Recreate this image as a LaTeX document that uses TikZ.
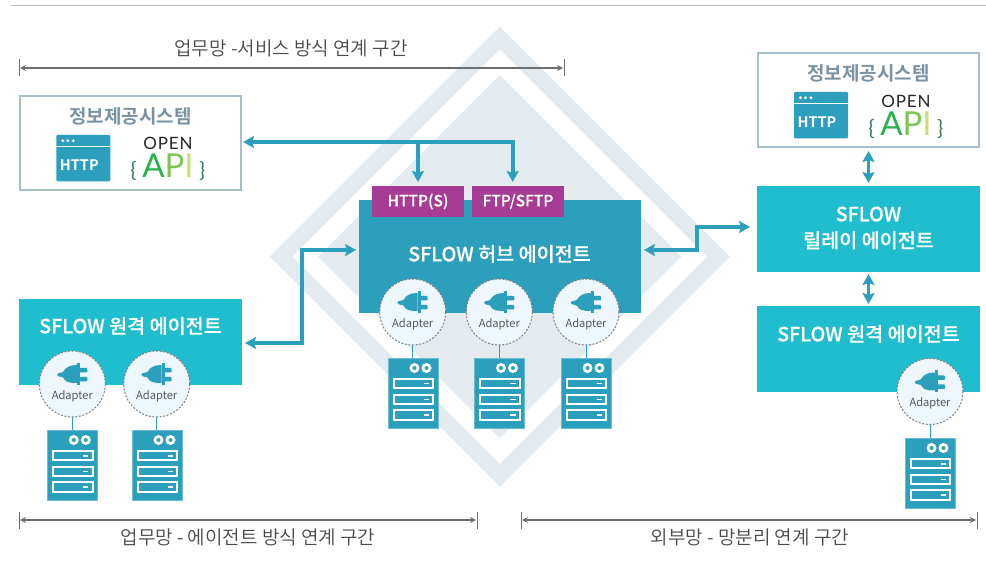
\documentclass[tikz,border=0pt]{standalone}
\usepackage{fontspec}
\setmainfont{Noto Sans CJK KR DemiLight}[BoldFont={Noto Sans CJK KR Bold}]
\newfontfamily\medfont{Noto Sans CJK KR Medium}[FakeBold=0.4]
\newfontfamily\apifont{Lato}
\usetikzlibrary{arrows.meta,calc,shapes.geometric}
\definecolor{hub}{HTML}{2C9FBD}
\definecolor{rem}{HTML}{20BDCE}
\definecolor{tagc}{HTML}{A63C93}
\definecolor{dia}{HTML}{E3EBF0}
\definecolor{adfill}{HTML}{EEF7FD}
\definecolor{txt}{HTML}{4A4A4A}
\definecolor{ttl}{HTML}{7A93A4}
\definecolor{edge}{HTML}{A6BDCC}
\definecolor{dimc}{HTML}{6E6E6E}
\definecolor{apia}{HTML}{2BB24C}
\definecolor{apip}{HTML}{7CC652}
\definecolor{apii}{HTML}{C8DE78}
\definecolor{apib}{HTML}{3A7D5C}
\tikzset{
  x=1pt,y=-1pt,
  agent/.style={fill=rem,minimum width=223pt,inner sep=0pt,outer sep=0pt,anchor=north west},
  info/.style={draw=edge,line width=2pt,fill=white,minimum width=221pt,inner sep=0pt,outer sep=0pt,anchor=north west},
  tagbox/.style={fill=tagc,minimum width=92pt,minimum height=31pt,inner sep=0pt,outer sep=0pt,anchor=north west,text=white,font=\medfont\fontsize{15.5}{15.5}\selectfont},
  head/.style={text=white,font=\medfont\fontsize{19.6}{26.5}\selectfont,align=center,inner sep=0pt},
  ttlt/.style={text=ttl,font=\fontsize{19}{20}\selectfont\bfseries,inner sep=0pt},
  dimt/.style={text=txt,font=\fontsize{19}{20}\selectfont,inner sep=0pt},
  flow/.style={draw=hub,line width=3.6pt,-{Stealth[length=11pt,width=12pt,inset=2pt]}},
  flowtwo/.style={draw=hub,line width=3.6pt,{Stealth[length=11pt,width=12pt,inset=2pt]}-{Stealth[length=11pt,width=12pt,inset=2pt]}},
  dimline/.style={draw=dimc,line width=1.5pt,{Stealth[length=6pt,width=6pt]}-{Stealth[length=6pt,width=6pt]}},
  tick/.style={draw=dimc,line width=.8pt},
  adapterc/.style={circle,draw=gray,dashed,dash pattern=on 2pt off 1.6pt,line width=1pt,fill=adfill,minimum size=66pt,inner sep=0pt,outer sep=0pt},
  srv/.style={fill=hub,draw=hub!70!white,line width=.5pt,minimum width=50pt,minimum height=70pt,inner sep=0pt,outer sep=0pt,anchor=north west},
}
% #1 name, #2 centre x, #3 centre y
\newcommand{\adapterunit}[3]{%
  \node[adapterc] (#1) at (#2,#3) {};
  \begin{scope}[shift={(#2,#3)}]
    \fill[hub] (5,-21) rectangle (8,1);
    \fill[hub,rounded corners=.8pt] (5,-19) .. controls (-3,-19) and (-7,-16) .. (-9,-12) -- (-15,-10.5) -- (-15,-8) -- (-9,-6.5) .. controls (-7,-2) and (-3,-1) .. (5,-1) -- cycle;
    \fill[hub,rounded corners=1pt] (7,-16) rectangle (15,-11.5);
    \fill[hub,rounded corners=1pt] (7,-7) rectangle (15,-2.5);
    \node[text=txt,font=\fontsize{11.2}{12}\selectfont,inner sep=0pt] (#1t) at (0,12) {Adapter};
  \end{scope}}
% #1 name, #2 left x, #3 top y, #4 adapter name
\newcommand{\serverunit}[4]{%
  \node[srv] (#1) at (#2,#3) {};
  \draw[hub,line width=1pt] (#4.south) -- (#4.south |- #1.north);
  \begin{scope}[shift={(#2,#3)}]
    \foreach \cx in {26.5,38.5}{\fill[white] (\cx,10) circle (5); \fill[hub] (\cx,10) circle (2);}
    \foreach \by in {20,35.7,51.3}{
      \draw[white,line width=2pt,fill=hub] (5.6,\by+1) rectangle (45.2,\by+10.4);
      \fill[white] (35.5,\by+5) rectangle (41,\by+6.5);}
  \end{scope}}
% #1 name, #2 left x, #3 top y (http window)
\newcommand{\httpicon}[3]{%
  \node[fill=hub,rounded corners=1.2pt,minimum width=54pt,minimum height=46.5pt,inner sep=0pt,outer sep=0pt,anchor=north west] (#1) at (#2,#3) {};
  \begin{scope}[shift={(#2,#3)}]
    \fill[white] (0,11) rectangle (54,12.2);
    \foreach \dx in {6.5,11.5,17}{\fill[white] (\dx,5.7) circle (1.6);}
    \node[text=white,font=\fontsize{14.5}{14}\selectfont\bfseries,inner sep=0pt] at (23,30) {HTTP};
  \end{scope}}
% #1 name, #2 centre x, #3 OPEN baseline y, #4 API baseline y
\newcommand{\apilogo}[4]{%
  \node[text=black!85,font=\apifont\addfontfeature{LetterSpace=5}\fontsize{17}{17}\selectfont,inner sep=0pt,anchor=base] (#1o) at (#2,#3) {OPEN};
  \node[font=\apifont\fontsize{33}{33}\selectfont,inner sep=0pt,anchor=base] (#1a) at (#2,#4) {\textcolor{apib}{\fontsize{21}{21}\selectfont\{}\,\textcolor{apia}{A}\textcolor{apip}{P}\textcolor{apii}{I}\,\textcolor{apib}{\fontsize{21}{21}\selectfont\}}};}
\begin{document}
\begin{tikzpicture}
\useasboundingbox (0,0) rectangle (986,585);
\fill[white] (0,0) rectangle (986,585);
\coordinate (ruleA) at (11,5.5);
\coordinate (ruleB) at (986,5.5);
\draw[color=black!28,line width=1.2pt] (ruleA) -- (ruleB);
% diamonds
\coordinate (dc) at (499.7,256.7);
\fill[dia] ($(dc)+(-230,0)$) -- ($(dc)+(0,-230)$) -- ($(dc)+(230,0)$) -- ($(dc)+(0,230)$) -- cycle;
\fill[white] ($(dc)+(-207,0)$) -- ($(dc)+(0,-207)$) -- ($(dc)+(207,0)$) -- ($(dc)+(0,207)$) -- cycle;
\fill[dia] ($(dc)+(-181.5,0)$) -- ($(dc)+(0,-181.5)$) -- ($(dc)+(181.5,0)$) -- ($(dc)+(0,181.5)$) -- cycle;
% dimension lines
\coordinate (d1a) at (19,68); \coordinate (d1b) at (564,68);
\coordinate (d2a) at (19,520); \coordinate (d2b) at (477,520);
\coordinate (d3a) at (521,520); \coordinate (d3b) at (977,520);
\foreach \p in {d1a,d1b,d2a,d2b,d3a,d3b}{\draw[tick] ($(\p)+(0,-8.5)$) -- ($(\p)+(0,8.5)$);}
\draw[dimline] ($(d1a)+(1,0)$) -- ($(d1b)+(-1,0)$);
\draw[dimline] ($(d2a)+(1,0)$) -- ($(d2b)+(-1,0)$);
\draw[dimline] ($(d3a)+(1,0)$) -- ($(d3b)+(-1,0)$);
\node[dimt] (t1) at (291,48) {업무망 -서비스 방식 연계 구간};
\node[dimt] (t2) at (248,537) {업무망 - 에이전트 방식 연계 구간};
\node[dimt] (t3) at (750,537) {외부망 - 망분리 연계 구간};
% info boxes
\node[info,minimum height=94pt] (infoL) at (20,96) {};
\node[ttlt] (infoLt) at (130.5,116) {정보제공시스템};
\httpicon{httpL}{56.3}{135}
\apilogo{apiL}{168}{150}{178}
\node[info,minimum height=94pt] (infoR) at (758,53) {};
\node[ttlt] (infoRt) at (868.5,73) {정보제공시스템};
\httpicon{httpR}{794}{92}
\apilogo{apiR}{906}{107.5}{135.5}
% hub
\node[fill=hub,minimum width=282pt,minimum height=113pt,inner sep=0pt,outer sep=0pt,anchor=north west] (hubb) at (359,200) {};
\node[tagbox] (tagh) at (372,186) {HTTP(S)};
\node[tagbox] (tagf) at (472,186) {FTP/SFTP};
\node[head] (hubt) at (499.5,254) {SFLOW 허브 에이전트};
\adapterunit{a1}{412.7}{312}
\adapterunit{a2}{499.3}{312}
\adapterunit{a3}{586}{312}
\serverunit{s1}{388}{358}{a1}
\serverunit{s2}{474.5}{358}{a2}
\serverunit{s3}{561}{358}{a3}
% left remote
\node[agent,minimum height=86pt] (remL) at (19,299) {};
\node[head] (remLt) at (130.5,326) {SFLOW 원격 에이전트};
\adapterunit{a4}{72.3}{384}
\adapterunit{a5}{156.7}{384}
\serverunit{s4}{47.3}{430}{a4}
\serverunit{s5}{132}{430}{a5}
% right column
\node[agent,minimum height=86pt] (relay) at (757,186) {};
\node[head] (relayt) at (868.5,228) {SFLOW\\릴레이 에이전트};
\node[agent,minimum height=86pt] (remR) at (757,306) {};
\node[head] (remRt) at (868.5,334) {SFLOW 원격 에이전트};
\adapterunit{a6}{930}{391.5}
\serverunit{s6}{905}{438}{a6}
% connectors
\coordinate (j1) at (tagh.north |- 0,142);
\coordinate (j2) at (512.7,142);
\draw[flow] (j1) -- ($(tagh.north)+(0,-4)$);
\draw[flowtwo] ($(infoL.east)+(2,-1)$) -- (j2) -- ($(j2)+(0,40)$);
\coordinate (lm) at (302,343);
\draw[flowtwo] ($(remL.east)+(3,1)$) -- (lm) -- (lm |- 0,250) -- ($(hubb.west)+(-3,-6.5)$);
\coordinate (rm) at (697,250);
\draw[flowtwo] ($(hubb.east)+(3,-6.5)$) -- (rm) -- (rm |- 0,227) -- ($(relay.west)+(-7,-2)$);
\draw[flowtwo,line width=2.5pt] ($(infoR.south)+(0,4)$) -- ($(relay.north)+(0,-3)$);
\draw[flowtwo,line width=2.5pt] ($(relay.south)+(0,2)$) -- ($(remR.north)+(0,-2)$);
\end{tikzpicture}
\end{document}
